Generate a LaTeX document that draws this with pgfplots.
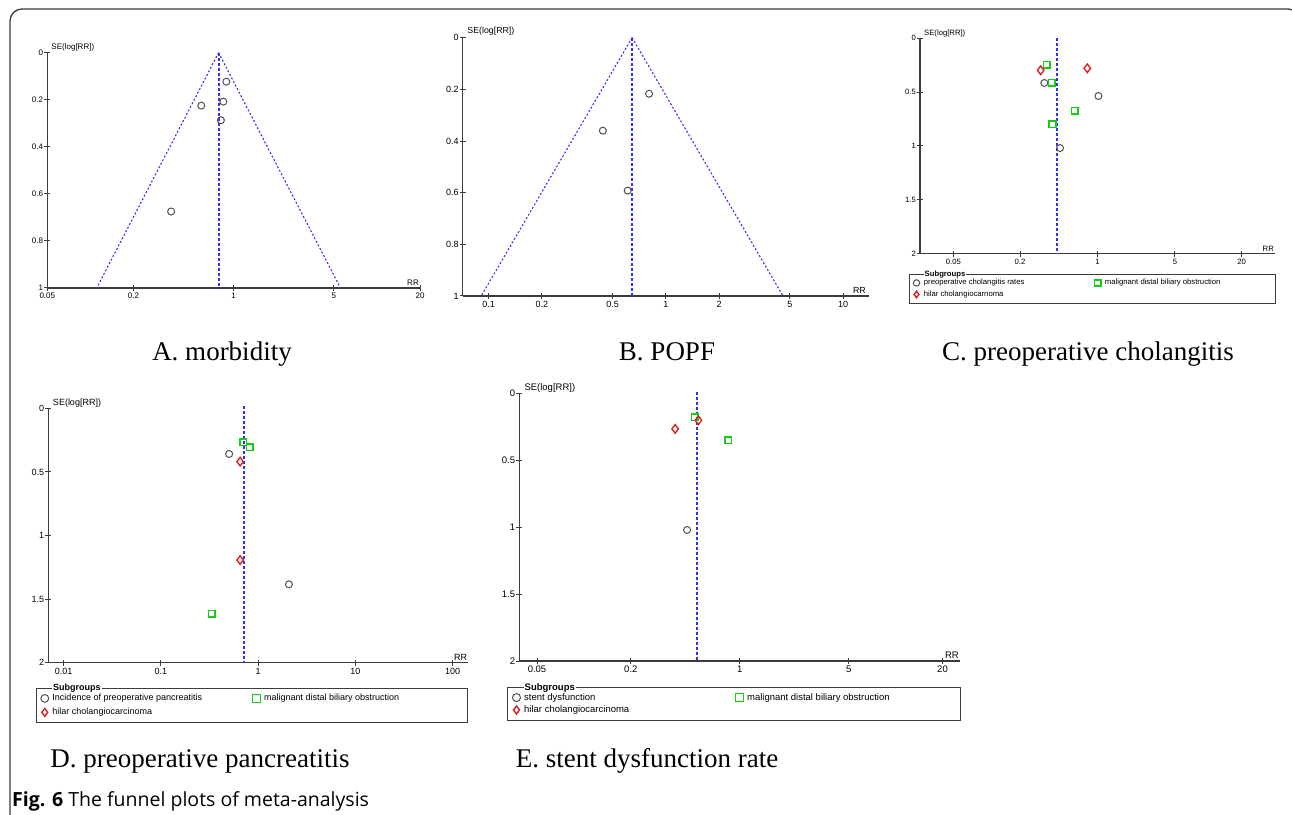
\documentclass[border=0pt]{standalone}
\usepackage{pgfplots}
\pgfplotsset{compat=1.18}
\usepackage{fontspec}
\setsansfont{Liberation Sans}
\setmainfont{Liberation Serif}
\newfontfamily\figfont{Open Sans}
\definecolor{axgray}{RGB}{60,60,60}
\definecolor{fblue}{RGB}{50,50,245}
\definecolor{mgray}{RGB}{80,80,80}
\definecolor{mgreen}{RGB}{20,205,20}
\definecolor{mred}{RGB}{215,35,35}
\pgfplotsset{
 legend cell align=left,
 limg/.style n args={3}{legend image code/.code={\path (0pt,0pt) (#2,0pt); \draw[##1, mark size=#3] plot coordinates {(#1,0pt)};}},
}
\pgfplotsset{
 funnel/.style={
   scale only axis, y dir=reverse,
   axis x line=bottom, axis y line=left,
   axis line style={-, draw=axgray, line width=1.1pt},
   tick align=center, major tick length=6pt,
   every tick/.style={draw=axgray, line width=1pt},
   xminorticks=false, yminorticks=false,
   yticklabel style={inner sep=1pt},
   xticklabel style={inner sep=2pt},
   clip=false,
 },
 circ/.style={only marks, mark=o, mark size=3.5pt, mark options={draw=mgray, line width=1pt}, draw=mgray},
 sq/.style={only marks, mark=square, mark size=3.3pt, mark options={draw=mgreen, line width=1.6pt}, draw=mgreen},
 dia/.style={only marks, mark=diamond, mark size=4.3pt, mark options={draw=mred, line width=1.4pt}, draw=mred},
 cline/.style={draw=fblue, line width=2.1pt, dash pattern=on 3pt off 2pt, forget plot},
 fline/.style={draw=fblue, line width=1.1pt, dash pattern=on 2pt off 2pt, forget plot},
}
\pgfkeys{/pgf/number format/assume math mode=true}
\begin{document}
\begin{tikzpicture}[x=1pt,y=1pt]
\useasboundingbox (0,0) rectangle (1292,814);
\draw[axgray, line width=1.3pt, rounded corners=12pt] (10,-5) -- (10,805) -- (1300,805) -- (1300,700);

% ---------------- A
\begin{semilogxaxis}[funnel, at={(47.3pt,526pt)}, anchor=south west, width=372.7pt, height=235.3pt,
 xmin=0.05, xmax=20, ymin=0, ymax=1,
 xtick={0.05,0.2,1,5,20}, xticklabels={0.05,0.2,1,5,20},
 ytick={0,0.2,0.4,0.6,0.8,1},
 tick label style={font=\sffamily\fontsize{8}{9}\selectfont}]
\addplot[fline] coordinates {(0.785,0) (0.1106,1)};
\addplot[fline] coordinates {(0.785,0) (5.57,1)};
\addplot[cline] coordinates {(0.785,0) (0.785,1)};
\addplot[circ] coordinates {(0.889,0.123) (0.847,0.208) (0.594,0.225) (0.815,0.287) (0.366,0.675)};
\node[anchor=west, xshift=3pt, yshift=5.5pt, font=\sffamily\fontsize{8}{9}\selectfont, inner sep=1pt] at (axis description cs:0,1) {SE(log[RR])};
\node[anchor=south east, yshift=1pt, font=\sffamily\fontsize{8}{9}\selectfont, inner sep=1pt] at (axis description cs:1,0) {RR};
\end{semilogxaxis}

% ---------------- B
\begin{semilogxaxis}[funnel, at={(462.7pt,518pt)}, anchor=south west, width=406.3pt, height=258.3pt,
 xmin=0.0714, xmax=14, ymin=0, ymax=1,
 xtick={0.1,0.2,0.5,1,2,5,10}, xticklabels={0.1,0.2,0.5,1,2,5,10},
 ytick={0,0.2,0.4,0.6,0.8,1},
 tick label style={font=\sffamily\fontsize{9}{10}\selectfont}]
\addplot[fline] coordinates {(0.645,0) (0.0908,1)};
\addplot[fline] coordinates {(0.645,0) (4.58,1)};
\addplot[cline] coordinates {(0.645,0) (0.645,1)};
\addplot[circ] coordinates {(0.804,0.217) (0.441,0.360) (0.609,0.592)};
\node[anchor=west, xshift=3.5pt, yshift=6pt, font=\sffamily\fontsize{8.8}{9}\selectfont, inner sep=1pt] at (axis description cs:0,1) {SE(log[RR])};
\node[anchor=south east, yshift=1pt, xshift=-2pt, font=\sffamily\fontsize{8.8}{9}\selectfont, inner sep=1pt] at (axis description cs:1,0) {RR};
\end{semilogxaxis}

% ---------------- C
\begin{semilogxaxis}[funnel, at={(920pt,560.3pt)}, anchor=south west, width=355pt, height=215.4pt,
 xmin=0.025, xmax=40, ymin=0, ymax=2,
 xtick={0.05,0.2,1,5,20}, xticklabels={0.05,0.2,1,5,20},
 ytick={0,0.5,1,1.5,2},
 tick label style={font=\sffamily\fontsize{7.7}{9}\selectfont},
 legend columns=2, limg={4.7pt}{9.7pt}{3.2pt},
 legend style={draw=axgray, line width=0.8pt, fill=white, at={(axis description cs:-0.031,-0.0942)}, anchor=north west,
   font=\sffamily\fontsize{7.7}{8.5}\selectfont, inner xsep=2pt, inner ysep=3pt, row sep=0.5pt,
   /tikz/every even column/.append style={column sep=66pt}}]
\addplot[cline] coordinates {(0.434,0) (0.434,2)};
\addplot[circ] coordinates {(0.331,0.415) (1.02,0.536) (0.459,1.019)};
\addlegendentry{preoperative cholangitis rates}
\addplot[sq] coordinates {(0.350,0.245) (0.388,0.415) (0.622,0.672) (0.393,0.799)};
\addlegendentry{malignant distal biliary obstruction\hspace*{51pt}}
\addplot[dia] coordinates {(0.307,0.297) (0.809,0.279)};
\addlegendentry{hilar cholangiocarnoma}
\node[anchor=west, xshift=3pt, yshift=4.5pt, font=\sffamily\fontsize{7.7}{9}\selectfont, inner sep=1pt] at (axis description cs:0,1) {SE(log[RR])};
\node[anchor=south east, yshift=1pt, font=\sffamily\fontsize{7.7}{9}\selectfont, inner sep=1pt] at (axis description cs:1,0) {RR};
\end{semilogxaxis}
\node[anchor=west, font=\sffamily\bfseries\fontsize{7.7}{9}\selectfont, fill=white, inner xsep=1pt, inner ysep=0.5pt] at (923.5,539.7) {Subgroups};

% ---------------- D
\begin{semilogxaxis}[funnel, at={(48.3pt,151.3pt)}, anchor=south west, width=420pt, height=254.4pt,
 xmin=0.00695, xmax=144.9, ymin=0, ymax=2,
 xtick={0.01,0.1,1,10,100}, xticklabels={0.01,0.1,1,10,100},
 ytick={0,0.5,1,1.5,2},
 tick label style={font=\sffamily\fontsize{9}{10}\selectfont},
 legend columns=2, limg={6pt}{11.3pt}{3.9pt},
 legend style={draw=axgray, line width=0.8pt, fill=white, at={(axis description cs:-0.0293,-0.0994)}, anchor=north west,
   font=\sffamily\fontsize{9}{10}\selectfont, inner xsep=2pt, inner ysep=4pt, row sep=2pt,
   /tikz/every even column/.append style={column sep=46pt}}]
\addplot[cline] coordinates {(0.712,-0.018) (0.712,2)};
\addplot[circ] coordinates {(0.503,0.359) (2.07,1.384)};
\addlegendentry{Incidence of preoperative pancreatitis}
\addplot[sq] coordinates {(0.701,0.265) (0.821,0.307) (0.334,1.617)};
\addlegendentry{malignant distal biliary obstruction\hspace*{64pt}}
\addplot[dia] coordinates {(0.653,0.419) (0.653,1.193)};
\addlegendentry{hilar cholangiocarcinoma}
\node[anchor=west, xshift=3.5pt, yshift=5pt, font=\sffamily\fontsize{9}{10}\selectfont, inner sep=1pt] at (axis description cs:0,1) {SE(log[RR])};
\node[anchor=south east, yshift=1pt, font=\sffamily\fontsize{9}{10}\selectfont, inner sep=1pt] at (axis description cs:1,0) {RR};
\end{semilogxaxis}
\node[anchor=west, font=\sffamily\bfseries\fontsize{9}{10}\selectfont, fill=white, inner xsep=1pt, inner ysep=0.5pt] at (52,125.7) {Subgroups};

% ---------------- E
\begin{semilogxaxis}[funnel, at={(519.3pt,153pt)}, anchor=south west, width=440.7pt, height=267.7pt,
 xmin=0.0385, xmax=25.9, ymin=0, ymax=2,
 xtick={0.05,0.2,1,5,20}, xticklabels={0.05,0.2,1,5,20},
 ytick={0,0.5,1,1.5,2},
 tick label style={font=\sffamily\fontsize{9.5}{10}\selectfont},
 legend columns=2, limg={6.7pt}{12pt}{4pt},
 legend style={draw=axgray, line width=0.8pt, fill=white, at={(axis description cs:-0.0279,-0.0971)}, anchor=north west,
   font=\sffamily\fontsize{9.5}{10.5}\selectfont, inner xsep=2pt, inner ysep=4pt, row sep=0pt,
   /tikz/every even column/.append style={column sep=101pt}}]
\addplot[cline] coordinates {(0.535,-0.012) (0.535,2)};
\addplot[circ] coordinates {(0.459,1.021)};
\addlegendentry{stent dysfunction}
\addplot[sq] coordinates {(0.514,0.179) (0.842,0.351)};
\addlegendentry{malignant distal biliary obstruction\hspace*{67pt}}
\addplot[dia] coordinates {(0.385,0.266) (0.543,0.202)};
\addlegendentry{hilar cholangiocarcinoma}
\node[anchor=west, xshift=4pt, yshift=5pt, font=\sffamily\fontsize{9.5}{10}\selectfont, inner sep=1pt] at (axis description cs:0,1) {SE(log[RR])};
\node[anchor=south east, yshift=1pt, font=\sffamily\fontsize{9.5}{10}\selectfont, inner sep=1pt] at (axis description cs:1,0) {RR};
\end{semilogxaxis}
\node[anchor=west, font=\sffamily\bfseries\fontsize{9.5}{10}\selectfont, fill=white, inner xsep=1pt, inner ysep=0.5pt] at (523.5,126.3) {Subgroups};

% ---------------- captions
\node[anchor=base, font=\rmfamily\fontsize{27}{30}\selectfont] at (222,453) {A. morbidity};
\node[anchor=base, font=\rmfamily\fontsize{27}{30}\selectfont] at (667,453) {B. POPF};
\node[anchor=base, font=\rmfamily\fontsize{27}{30}\selectfont] at (1088,453) {C. preoperative cholangitis};
\node[anchor=base, font=\rmfamily\fontsize{27}{30}\selectfont] at (200,47) {D. preoperative pancreatitis};
\node[anchor=base, font=\rmfamily\fontsize{27}{30}\selectfont] at (647,47) {E. stent dysfunction rate};
\node[anchor=base west, font=\figfont\fontsize{19.5}{21}\selectfont, inner sep=0pt] at (12,7.5) {\textbf{Fig. 6} The funnel plots of meta-analysis};
\end{tikzpicture}
\end{document}
